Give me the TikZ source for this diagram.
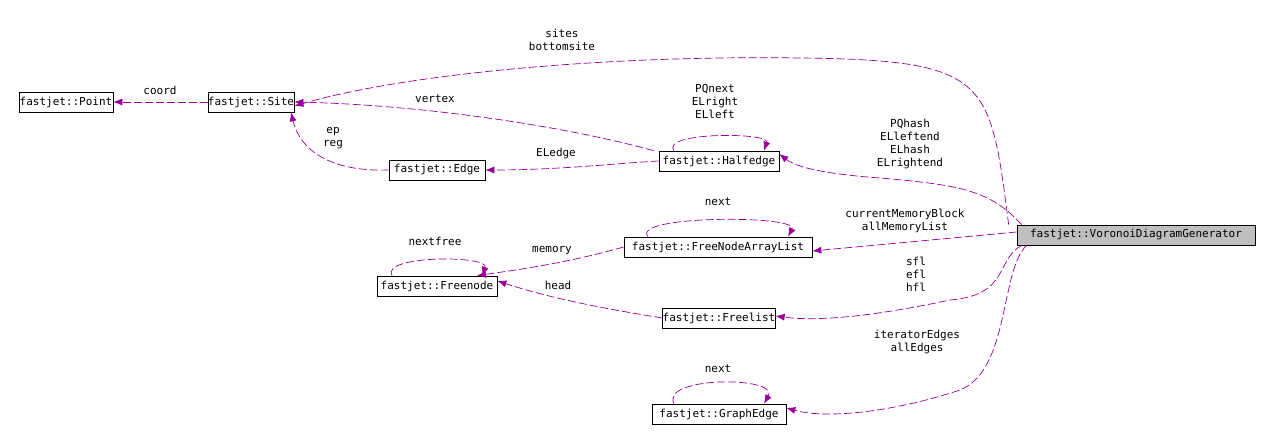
\documentclass[tikz,border=0pt]{standalone}
\usepackage{fontspec}
\setmonofont{DejaVu Sans Mono}
\usetikzlibrary{arrows.meta}
\begin{document}
\begin{tikzpicture}[x=1pt,y=-1pt,
  cls/.style={draw=black,line width=0.7pt,fill=white,inner sep=0pt,minimum height=20pt,font=\ttfamily\fontsize{11}{12}\selectfont},
  lbl/.style={font=\ttfamily\fontsize{11}{13}\selectfont,align=center,inner sep=0pt},
  rel/.style={draw=violet!80!magenta,line width=0.7pt,dash pattern=on 8pt off 3pt,-{Latex[length=9pt,width=7pt]}}]
\useasboundingbox (0,0) rectangle (1270,444);
\node[cls,minimum width=94pt] (pt) at (66,102) {fastjet::Point};
\node[cls,minimum width=80pt] (site) at (251,102) {fastjet::Site};
\node[cls,minimum width=96pt] (edge) at (437,170) {fastjet::Edge};
\node[cls,minimum width=120pt] (he) at (719,161) {fastjet::Halfedge};
\node[cls,minimum width=188pt] (fnal) at (718,247) {fastjet::FreeNodeArrayList};
\node[cls,minimum width=120pt] (fn) at (437,286) {fastjet::Freenode};
\node[cls,minimum width=104pt] (fl) at (719,318) {fastjet::Freelist};
\node[cls,minimum width=134pt] (ge) at (719,414) {fastjet::GraphEdge};
\node[cls,minimum width=238pt,fill=black!25] (vdg) at (1136,235) {fastjet::VoronoiDiagramGenerator};

\draw[rel] (site.west) -- (pt.east);
\node[lbl] (l1) at (160,90) {coord};
\draw[rel] ([xshift=-5pt]he.north west) .. controls (560,125) and (420,105) .. (site.east);
\node[lbl] (l2) at (435,99) {vertex};
\draw[rel] (edge.west) .. controls (330,172) and (300,150) .. ([xshift=40pt]site.south);
\node[lbl] (l3) at (333,138) {ep\\reg};
\draw[rel] (he.west) .. controls (620,163) and (560,170) .. (edge.east);
\node[lbl] (l4) at (556,154) {ELedge};
\draw[rel] ([xshift=-45pt]he.north) .. controls (660,132) and (770,132) .. ([xshift=45pt]he.north);
\node[lbl] (l5) at (715,101) {PQnext\\ELright\\ELleft};
\draw[rel] ([xshift=-8pt]vdg.north west) .. controls (990,80) and (990,60) .. (800,58) .. controls (600,55) and (400,75) .. ([yshift=-4pt]site.east);
\node[lbl] (l6) at (562,40) {sites\\bottomsite};
\draw[rel] ([xshift=5pt]vdg.north west) .. controls (990,190) and (960,185) .. (880,178) .. controls (840,175) and (800,170) .. ([yshift=7pt]he.east);
\node[lbl] (l7) at (910,144) {PQhash\\ELleftend\\ELhash\\ELrightend};
\draw[rel] ([yshift=3pt]vdg.west) -- ([yshift=-4pt]fnal.east);
\node[lbl] (l8) at (905,221) {currentMemoryBlock\\allMemoryList};
\draw[rel] ([xshift=-70pt]fnal.north) .. controls (630,215) and (800,215) .. ([xshift=70pt]fnal.north);
\node[lbl] (l9) at (718,202) {next};
\draw[rel] (fnal.west) .. controls (570,262) and (530,268) .. ([xshift=40pt]fn.north);
\node[lbl] (l10) at (552,251) {memory};
\draw[rel] ([xshift=-45pt]fn.north) .. controls (380,255) and (490,255) .. ([xshift=45pt]fn.north);
\node[lbl] (l11) at (435,241) {nextfree};
\draw[rel] (fl.west) .. controls (600,308) and (550,298) .. ([yshift=5pt]fn.east);
\node[lbl] (l12) at (558,285) {head};
\draw[rel] ([xshift=5pt]vdg.south west) .. controls (995,260) and (1010,295) .. (950,300) .. controls (880,315) and (820,322) .. ([yshift=2pt]fl.east);
\node[lbl] (l13) at (916,274) {sfl\\efl\\hfl};
\draw[rel] ([xshift=10pt]vdg.south west) .. controls (1000,270) and (1010,370) .. (960,390) .. controls (900,410) and (830,420) .. ([yshift=6pt]ge.east);
\node[lbl] (l14) at (917,342) {iteratorEdges\\allEdges};
\draw[rel] ([xshift=-45pt]ge.north) .. controls (660,376) and (780,376) .. ([xshift=45pt]ge.north);
\node[lbl] (l15) at (718,369) {next};
\end{tikzpicture}
\end{document}
